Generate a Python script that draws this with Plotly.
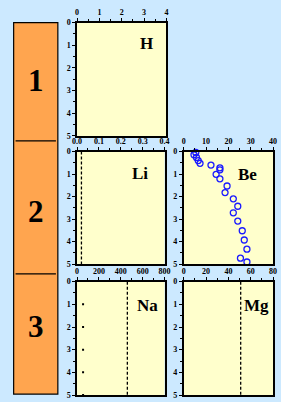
import plotly.graph_objects as go

W, H = 281, 402

# ---- data ----
periods = ["1", "2", "3"]
elements = ["H", "Li", "Be", "Na", "Mg"]
x_ranges = {"H": [0, 4], "Li": [0, 0.4], "Be": [0, 40], "Na": [0, 800], "Mg": [0, 80]}
x_dticks = {"H": 1, "Li": 0.1, "Be": 10, "Na": 200, "Mg": 20}
x_formats = {"H": "d", "Li": ".1f", "Be": "d", "Na": "d", "Mg": "d"}
depth_range = [5, 0]

be_x = [5.4, 4.6, 5.7, 6.5, 7.3, 12.2, 16.2, 16.2, 14.5, 16.2, 19.4, 18.5, 22.2, 24.2, 22.2, 24.2, 26.2, 27.1, 28.3, 25.4, 28.3]
be_y = [0.04, 0.14, 0.26, 0.40, 0.52, 0.60, 0.72, 0.81, 1.01, 1.21, 1.53, 1.82, 2.10, 2.43, 2.72, 3.09, 3.52, 3.93, 4.34, 4.74, 4.91]

li_line_x = [0.02, 0.02]
li_line_y = [0, 5]
na_line_x = [460, 460]
na_line_y = [0, 5]
na_dot_x = [55, 55, 55, 55, 55]
na_dot_y = [1, 2, 3, 4, 5]
mg_line_x = [51, 51]
mg_line_y = [0, 5]

# ---- layout helpers ----
def px_x(p):
    return p / W

def px_y(p):
    return 1 - p / H

panel_px = {
    "H": (75, 168, 19, 135),
    "Li": (75, 166, 151, 266),
    "Be": (186, 279, 151, 266),
    "Na": (75, 166, 284, 400),
    "Mg": (186, 279, 284, 400),
}

SERIF = "Liberation Serif"
fig = go.Figure()
layout = dict(
    width=W, height=H,
    margin=dict(l=0, r=0, t=0, b=0),
    paper_bgcolor="#CCE9FF",
    plot_bgcolor="#FFFFCC",
    showlegend=False,
    font=dict(family=SERIF, color="black"),
)

axis_ids = {}
for i, el in enumerate(elements, start=1):
    x0, x1, y0, y1 = panel_px[el]
    xa = "xaxis" if i == 1 else f"xaxis{i}"
    ya = "yaxis" if i == 1 else f"yaxis{i}"
    xref = "x" if i == 1 else f"x{i}"
    yref = "y" if i == 1 else f"y{i}"
    axis_ids[el] = (xref, yref)
    layout[xa] = dict(
        domain=[px_x(x0), px_x(x1)], anchor=yref, side="top",
        range=x_ranges[el], dtick=x_dticks[el], tick0=0, tickformat=x_formats[el],
        showgrid=False, zeroline=False, showline=True, mirror=True,
        linecolor="black", linewidth=1.5, ticks="outside", ticklen=3,
        tickcolor="black", tickwidth=1,
        minor=dict(dtick=x_dticks[el] / 2, ticks="outside", ticklen=2, tickcolor="black"),
        tickfont=dict(family=SERIF, size=8, color="black", weight="bold"),
        fixedrange=True,
    )
    layout[ya] = dict(
        domain=[px_y(y1), px_y(y0)], anchor=xref,
        range=depth_range, dtick=1, tick0=0,
        showgrid=False, zeroline=False, showline=True, mirror=True,
        linecolor="black", linewidth=1.5, ticks="outside", ticklen=3,
        tickcolor="black", tickwidth=1,
        minor=dict(dtick=0.5, ticks="outside", ticklen=2, tickcolor="black"),
        tickfont=dict(family=SERIF, size=8, color="black", weight="bold"),
        fixedrange=True,
    )

fig.update_layout(**layout)

DASH = "3px,2px"

# Traces
xr, yr = axis_ids["H"]
fig.add_trace(go.Scatter(x=[], y=[], xaxis=xr, yaxis=yr))

xr, yr = axis_ids["Li"]
fig.add_trace(go.Scatter(x=li_line_x, y=li_line_y, mode="lines", xaxis=xr, yaxis=yr,
                         line=dict(color="black", width=1.3, dash=DASH)))

xr, yr = axis_ids["Be"]
fig.add_trace(go.Scatter(x=be_x, y=be_y, mode="markers", xaxis=xr, yaxis=yr, cliponaxis=False,
                         marker=dict(symbol="circle-open", size=6, color="#1a1aff",
                                     line=dict(width=1.3, color="#1a1aff"))))

xr, yr = axis_ids["Na"]
fig.add_trace(go.Scatter(x=na_line_x, y=na_line_y, mode="lines", xaxis=xr, yaxis=yr,
                         line=dict(color="black", width=1.3, dash=DASH)))
fig.add_trace(go.Scatter(x=na_dot_x, y=na_dot_y, mode="markers", xaxis=xr, yaxis=yr,
                         marker=dict(symbol="square", size=2, color="black")))

xr, yr = axis_ids["Mg"]
fig.add_trace(go.Scatter(x=mg_line_x, y=mg_line_y, mode="lines", xaxis=xr, yaxis=yr,
                         line=dict(color="black", width=1.3, dash=DASH)))

# Element labels
label_pos = {"H": (147, 40), "Li": (140, 173), "Be": (252, 174), "Na": (148, 308), "Mg": (262, 308)}
for el, (lx, ly) in label_pos.items():
    fig.add_annotation(x=px_x(lx), y=px_y(ly), xref="paper", yref="paper", text=f"<b>{el}</b>",
                       showarrow=False, font=dict(family=SERIF, size=17, color="black"),
                       xanchor="center", yanchor="middle")

# Orange period column
fig.add_shape(type="rect", xref="paper", yref="paper",
              x0=px_x(9), x1=px_x(55), y0=px_y(399), y1=px_y(19),
              fillcolor="#FFA54F", line=dict(color="black", width=1.2), layer="below")
for yy in [140, 276]:
    fig.add_shape(type="line", xref="paper", yref="paper",
                  x0=px_x(11), x1=px_x(53), y0=px_y(yy), y1=px_y(yy),
                  line=dict(color="black", width=1.2))

period_y = [78, 212, 330]
for p, py in zip(periods, period_y):
    fig.add_annotation(x=px_x(32), y=px_y(py), xref="paper", yref="paper", text=f"<b>{p}</b>",
                       showarrow=False, font=dict(family=SERIF, size=31, color="black"),
                       xanchor="center", yanchor="middle")

fig.write_html("out.html", config={"displayModeBar": False},
               post_script="document.body.style.margin='0';document.body.style.overflow='hidden';")
